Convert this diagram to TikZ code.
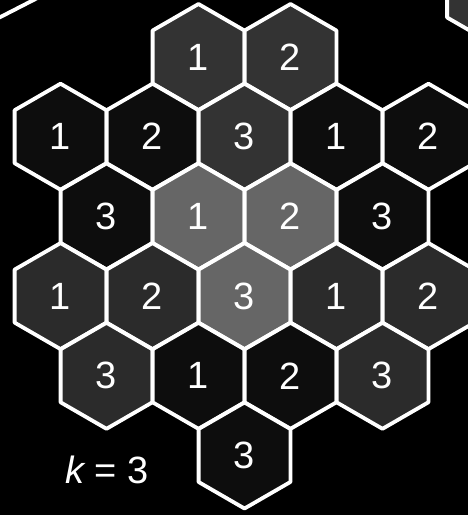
\documentclass[tikz,border=0pt]{standalone}
\usepackage{fontspec}
\setmainfont{Liberation Sans}
\usepackage{tikz}
\usetikzlibrary{shapes.geometric}

\definecolor{celldark}{gray}{0.05}
\definecolor{cellmid}{gray}{0.17}
\definecolor{celltop}{gray}{0.2}
\definecolor{celllight}{gray}{0.4}

\begin{document}
\begin{tikzpicture}[
  x=1pt, y=-1pt,
  every node/.style={font=\fontsize{38}{42}\selectfont, text=white},
  hexcell/.style={regular polygon, regular polygon sides=6,
                  shape border rotate=30, minimum size=106pt,
                  inner sep=0pt, outer sep=0pt,
                  draw=white, line width=3.8pt, line join=round},
  edge/.style={draw=white, line width=3.8pt, line join=round},
]
  % background and frame
  \fill[black] (0,0) rectangle (468,515);
  \useasboundingbox (0,0) rectangle (468,515);
  \clip (0,0) rectangle (468,515);

  % pieces of the neighbouring figures
  \draw[edge] (-20,27.5) -- (53,-10);
  \node[hexcell, fill=celltop] (nb) at (493,-9) {};

  % row 1
  \node[hexcell, fill=celltop]   (a1) at (198.5,57)    {1};
  \node[hexcell, fill=celltop]   (a2) at (290.5,57)    {2};
  % row 2
  \node[hexcell, fill=celldark]  (b1) at (60.5,136.7)  {1};
  \node[hexcell, fill=celldark]  (b2) at (152.5,136.7) {2};
  \node[hexcell, fill=celltop]   (b3) at (244.5,136.7) {3};
  \node[hexcell, fill=celldark]  (b4) at (336.5,136.7) {1};
  \node[hexcell, fill=celldark]  (b5) at (428.5,136.7) {2};
  % row 3
  \node[hexcell, fill=celldark]  (c1) at (106.5,216.4) {3};
  \node[hexcell, fill=celllight] (c2) at (198.5,216.4) {1};
  \node[hexcell, fill=celllight] (c3) at (290.5,216.4) {2};
  \node[hexcell, fill=celldark]  (c4) at (382.5,216.4) {3};
  % row 4
  \node[hexcell, fill=cellmid]   (d1) at (60.5,296.1)  {1};
  \node[hexcell, fill=cellmid]   (d2) at (152.5,296.1) {2};
  \node[hexcell, fill=celllight] (d3) at (244.5,296.1) {3};
  \node[hexcell, fill=cellmid]   (d4) at (336.5,296.1) {1};
  \node[hexcell, fill=cellmid]   (d5) at (428.5,296.1) {2};
  % row 5
  \node[hexcell, fill=cellmid]   (e1) at (106.5,375.8) {3};
  \node[hexcell, fill=celldark]  (e2) at (198.5,375.8) {1};
  \node[hexcell, fill=celldark]  (e3) at (290.5,375.8) {2};
  \node[hexcell, fill=cellmid]   (e4) at (382.5,375.8) {3};
  % row 6
  \node[hexcell, fill=celldark]  (f1) at (244.5,455.5) {3};

  \node (kval) at (107,470) {\itshape k\upshape{} = 3};
\end{tikzpicture}
\end{document}
